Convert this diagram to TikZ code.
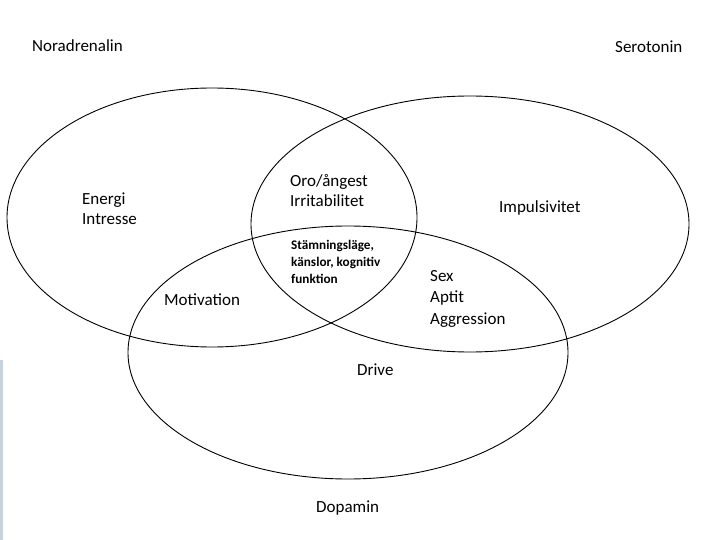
\documentclass[tikz,border=0pt]{standalone}
\usepackage{fontspec}
\setmainfont{Carlito}
\begin{document}
\begin{tikzpicture}[x=1pt,y=-1pt,
  ring/.style={draw=black,line width=0.9pt},
  lbl/.style={anchor=west,inner sep=0pt,align=left,font=\fontsize{17}{20}\selectfont},
  small/.style={anchor=west,inner sep=0pt,align=left,font=\fontsize{13.2}{17}\selectfont\bfseries}]
\useasboundingbox[fill=white] (0,0) rectangle (720,540);
% faint left edge band
\fill[color={rgb,255:red,200;green,210;blue,220}] (0,360) rectangle (2.5,540);
% ellipses
\draw[ring] (212,217.5) ellipse [x radius=205pt, y radius=129.5pt];
\draw[ring] (470,224) ellipse [x radius=219pt, y radius=128pt];
\draw[ring] (348,352.5) ellipse [x radius=220pt, y radius=126.5pt];
% labels
\node[lbl] (nor) at (32,46) {Noradrenalin};
\node[lbl] (ser) at (615,47) {Serotonin};
\node[lbl] (ene) at (82,209) {Energi\\Intresse};
\node[lbl] (oro) at (290,191) {Oro/ångest\\Irritabilitet};
\node[lbl] (imp) at (499,208) {Impulsivitet};
\node[small] (sta) at (291,261.5) {Stämningsläge,\\känslor, kognitiv\\funktion};
\node[lbl] (mot) at (164,299.5) {Motivation};
\node[lbl,font=\fontsize{17}{21.5}\selectfont] (sex) at (430,298.5) {Sex\\Aptit\\Aggression};
\node[lbl] (dri) at (357,370) {Drive};
\node[lbl] (dop) at (316,508) {Dopamin};
\end{tikzpicture}
\end{document}
